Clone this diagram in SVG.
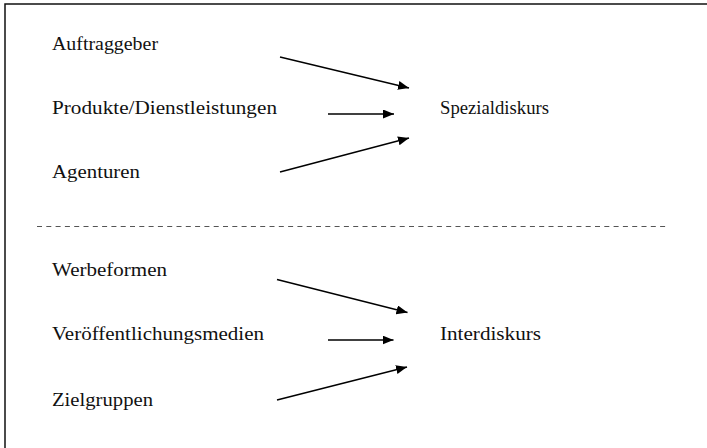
<svg xmlns="http://www.w3.org/2000/svg" width="707" height="448" viewBox="0 0 707 448">
  <style>
    .lbl { font-family: "Liberation Serif", "Times New Roman", serif; font-size: 18px; fill: #111; }
    .frame { fill: none; stroke: #111; stroke-width: 1.5; }
    .sep { fill: none; stroke: #555; stroke-width: 1.2; stroke-dasharray: 5 4.3; }
    .edge { fill: none; stroke: #000; stroke-width: 1.4; marker-end: url(#head); }
  </style>
  <defs>
    <marker id="head" markerUnits="userSpaceOnUse" markerWidth="12" markerHeight="10" refX="11" refY="4.5" orient="auto">
      <path d="M0,0 L11,4.5 L0,9 z" fill="#000"/>
    </marker>
  </defs>

  <rect width="707" height="448" fill="#fff"/>
  <!-- outer frame, open towards the right and bottom -->
  <path class="frame" d="M5,460 V4 H720"/>

  <!-- separator between the two halves -->
  <line class="sep" x1="37" y1="226.5" x2="666" y2="226.5"/>

  <!-- upper half -->
  <g id="auftraggeber"><text class="lbl" x="52" y="50" textLength="106" lengthAdjust="spacingAndGlyphs">Auftraggeber</text></g>
  <g id="produkte"><text class="lbl" x="52" y="113.5" textLength="225" lengthAdjust="spacingAndGlyphs">Produkte/Dienstleistungen</text></g>
  <g id="agenturen"><text class="lbl" x="52" y="178" textLength="88" lengthAdjust="spacingAndGlyphs">Agenturen</text></g>
  <g id="spezialdiskurs"><text class="lbl" x="440" y="114" textLength="109" lengthAdjust="spacingAndGlyphs">Spezialdiskurs</text></g>

  <!-- lower half -->
  <g id="werbeformen"><text class="lbl" x="52" y="276" textLength="115" lengthAdjust="spacingAndGlyphs">Werbeformen</text></g>
  <g id="medien"><text class="lbl" x="52" y="340" textLength="212" lengthAdjust="spacingAndGlyphs">Veröffentlichungsmedien</text></g>
  <g id="zielgruppen"><text class="lbl" x="52" y="405.5" textLength="101" lengthAdjust="spacingAndGlyphs">Zielgruppen</text></g>
  <g id="interdiskurs"><text class="lbl" x="440" y="340" textLength="101" lengthAdjust="spacingAndGlyphs">Interdiskurs</text></g>

  <g id="connectors">
    <line class="edge" x1="280" y1="57" x2="409" y2="88"/>
    <line class="edge" x1="328" y1="114" x2="394" y2="114"/>
    <line class="edge" x1="280" y1="172" x2="409" y2="138"/>

    <line class="edge" x1="277" y1="279.5" x2="407.5" y2="312.5"/>
    <line class="edge" x1="328" y1="340" x2="393.5" y2="340"/>
    <line class="edge" x1="277" y1="400" x2="407" y2="367"/>
  </g>
</svg>
